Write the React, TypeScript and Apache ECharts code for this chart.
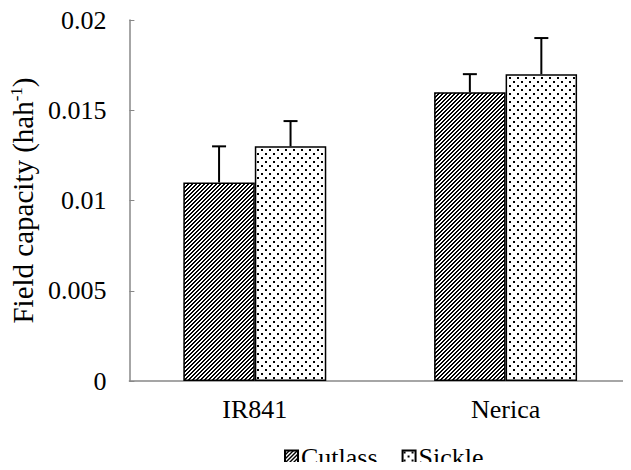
import React, { useEffect, useRef } from "react";
import * as echarts from "echarts";

const categories = ["IR841", "Nerica"];
const seriesNames = ["Cutlass", "Sickle"];
const cutlassValues = [0.011, 0.016];
const sickleValues = [0.013, 0.017];
const cutlassErrors = [0.002, 0.001];
const sickleErrors = [0.0014, 0.002];
const yTicks = [0, 0.005, 0.01, 0.015, 0.02];

const FONT = "Liberation Serif";
const FS = 26;
const GAP = 0.43;

function makeHatch(): HTMLCanvasElement {
  const c = document.createElement("canvas");
  c.width = 4;
  c.height = 4;
  const ctx = c.getContext("2d")!;
  ctx.fillStyle = "#fff";
  ctx.fillRect(0, 0, 4, 4);
  ctx.fillStyle = "#000";
  for (let i = 0; i < 4; i++) {
    ctx.fillRect(i, 3 - i, 1, 1);
    ctx.fillRect((i + 1) % 4, 3 - i, 1, 1);
  }
  return c;
}

function makeDots(): HTMLCanvasElement {
  const c = document.createElement("canvas");
  c.width = 8;
  c.height = 8;
  const ctx = c.getContext("2d")!;
  ctx.fillStyle = "#fff";
  ctx.fillRect(0, 0, 8, 8);
  ctx.fillStyle = "#000";
  ctx.fillRect(1, 1, 2, 2);
  ctx.fillRect(5, 5, 2, 2);
  return c;
}

export default function App() {
  const ref = useRef<HTMLDivElement>(null);
  useEffect(() => {
    if (!ref.current) return;
    const chart = echarts.init(ref.current, null, { renderer: "svg" });
    const hatch = makeHatch();
    const dots = makeDots();
    const patterns = [
      { image: hatch, repeat: "repeat", imageWidth: 4, imageHeight: 4 },
      { image: dots, repeat: "repeat", imageWidth: 8, imageHeight: 8 },
    ];
    const values = [cutlassValues, sickleValues];
    const errors = [cutlassErrors, sickleErrors];

    const errSeries = values.map((vals, si) => ({
      type: "custom",
      name: seriesNames[si] + "-err",
      z: 1,
      silent: true,
      data: vals.map((v, i) => [i, v, v + errors[si][i]]),
      renderItem: (params: any, api: any) => {
        const idx = api.value(0);
        const band = api.size([1, 0])[0];
        const bw = (band * (1 - GAP)) / 2;
        const off = si === 0 ? -bw / 2 : bw / 2;
        const base = api.coord([idx, api.value(1)]);
        const top = api.coord([idx, api.value(2)]);
        const x = base[0] + off;
        const cap = 7;
        const st = { stroke: "#000", lineWidth: 2 };
        return {
          type: "group",
          children: [
            { type: "line", shape: { x1: x, y1: base[1], x2: x, y2: top[1] }, style: st },
            { type: "line", shape: { x1: x - cap, y1: top[1], x2: x + cap, y2: top[1] }, style: st },
          ],
        };
      },
    }));

    chart.setOption({
      animation: false,
      textStyle: { fontFamily: FONT },
      grid: { left: 123, right: 0, top: 20, bottom: 89, containLabel: false },
      legend: {
        data: seriesNames,
        left: 279,
        top: 439,
        padding: 5,
        itemWidth: 13,
        itemHeight: 13,
        itemGap: 24,
        icon: "rect",
        textStyle: { fontFamily: FONT, fontSize: FS, lineHeight: 26, color: "#000", padding: [0, 0, 0, -2] },
      },
      xAxis: {
        type: "category",
        data: categories,
        axisLine: { lineStyle: { color: "#888", width: 1.5 } },
        axisTick: { show: false },
        axisLabel: { fontFamily: FONT, fontSize: FS, color: "#000", margin: 15 },
      },
      yAxis: {
        type: "value",
        min: 0,
        max: 0.02,
        interval: 0.005,
        name: "{a|Field capacity (hah}{s|-1}{a|)}",
        nameLocation: "middle",
        nameGap: 88,
        nameTextStyle: {
          rich: {
            a: { fontFamily: FONT, fontSize: 29, color: "#000" },
            s: { fontFamily: FONT, fontSize: 17, color: "#000", verticalAlign: "top", padding: [0, 0, 11, 0] },
          },
        },
        axisLine: { show: true, lineStyle: { color: "#888", width: 1.5 } },
        axisTick: { show: true, inside: true, length: 5, lineStyle: { color: "#888" } },
        splitLine: { show: false },
        axisLabel: {
          fontFamily: FONT,
          fontSize: FS,
          color: "#000",
          margin: 23,
          formatter: (v: number) => {
            const t = yTicks.find((y) => Math.abs(y - v) < 1e-9);
            return String(t !== undefined ? t : v);
          },
        },
      },
      series: [
        ...values.map((vals, si) => ({
          type: "bar",
          name: seriesNames[si],
          data: vals,
          barGap: "0%",
          barCategoryGap: GAP * 100 + "%",
          z: 2,
          itemStyle: { color: patterns[si], borderColor: "#000", borderWidth: 1.5 },
        })),
        ...errSeries,
      ],
    });
    return () => chart.dispose();
  }, []);
  return <div ref={ref} style={{ width: 631, height: 470, margin: -8 }} />;
}
